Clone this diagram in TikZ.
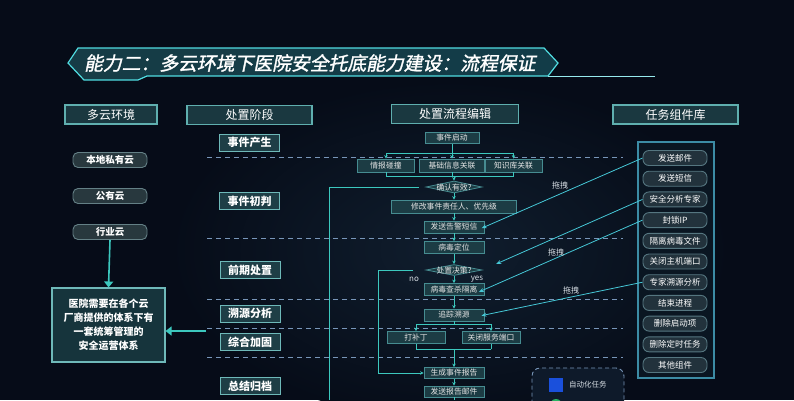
\documentclass[tikz,border=0pt]{standalone}
\usepackage{fontspec}
\setmainfont{Noto Sans CJK SC}
\newfontfamily\titlefont{Noto Sans CJK SC}[FakeSlant=0.2,FakeBold=1.5]
\usetikzlibrary{arrows.meta,shapes.geometric,calc}
\definecolor{bgc}{RGB}{6,12,24}
\definecolor{glowc}{RGB}{16,30,46}
\definecolor{hdrfill}{RGB}{26,56,64}
\definecolor{hdrdraw}{RGB}{95,175,175}
\definecolor{stgfill}{RGB}{30,62,70}
\definecolor{stgdraw}{RGB}{110,185,185}
\definecolor{bigfill}{RGB}{22,52,60}
\definecolor{boxfill}{RGB}{28,60,68}
\definecolor{boxdraw}{RGB}{70,140,145}
\definecolor{tealc}{RGB}{60,200,190}
\definecolor{cpfill}{RGB}{40,56,62}
\definecolor{cpdraw}{RGB}{100,128,134}
\definecolor{pillfill}{RGB}{34,50,60}
\definecolor{pilldraw}{RGB}{85,118,128}
\definecolor{libfill}{RGB}{10,22,34}
\definecolor{libdraw}{RGB}{60,140,165}
\definecolor{dashc}{RGB}{120,150,185}
\definecolor{dragc}{RGB}{70,200,215}
\definecolor{banA}{RGB}{22,60,70}
\definecolor{banB}{RGB}{40,115,125}
\definecolor{banC}{RGB}{18,60,72}
\definecolor{bandraw}{RGB}{80,220,225}
\definecolor{legfill}{RGB}{14,26,42}
\definecolor{autoblue}{RGB}{26,80,220}
\definecolor{greenc}{RGB}{40,180,100}
\definecolor{lblc}{RGB}{215,222,228}
\newcommand\mkzb[1]{\makebox[0pt]{\raisebox{-0.42em}[0pt][0pt]{#1}}}
\begin{document}
\begin{tikzpicture}[x=1pt,y=-1pt,
  hdr/.style={draw=hdrdraw, fill=hdrfill, line width=1.1pt, minimum height=19pt, inner sep=0pt, text=white, font=\fontsize{12}{14}\selectfont},
  cpill/.style={draw=cpdraw, fill=cpfill, line width=0.9pt, rounded corners=5pt, minimum width=74pt, minimum height=15pt, inner sep=0pt, text=white, font=\fontsize{9.5}{11}\selectfont\bfseries},
  bigbox/.style={draw=stgdraw, fill=bigfill, line width=1.1pt, inner sep=0pt, align=center, text=white, font=\fontsize{10}{14}\selectfont\bfseries},
  stg/.style={draw=stgdraw, fill=stgfill, line width=1pt, minimum width=60pt, minimum height=17pt, inner sep=0pt, text=white, font=\fontsize{11}{13}\selectfont\bfseries},
  flowbox/.style={draw=boxdraw, fill=boxfill, line width=0.8pt, minimum width=60pt, minimum height=12pt, inner sep=0pt, text=white!90!black, font=\fontsize{7.8}{9}\selectfont},
  dia/.style={flowbox, shape=diamond, minimum width=56pt, minimum height=12pt},
  lpill/.style={draw=pilldraw, fill=pillfill, line width=0.9pt, rounded corners=6pt, minimum width=64pt, minimum height=15pt, inner sep=0pt, text=white, font=\fontsize{8.5}{10}\selectfont},
  lbl/.style={text=lblc, inner sep=0pt, font=\fontsize{8}{9}\selectfont},
  flow/.style={draw=tealc, line width=0.9pt},
  flowarr/.style={flow, -{Stealth[length=3.5pt,width=3.5pt]}},
  drag/.style={draw=dragc, line width=0.8pt, -{Stealth[length=5pt,width=4pt]}},
  bigarr/.style={draw=tealc, line width=1.6pt, -{Triangle[length=6pt,width=9pt]}},
  dline/.style={draw=dashc, line width=0.8pt, dash pattern=on 5pt off 4pt}
]
\useasboundingbox (0,0) rectangle (794,400);
\clip (0,0) rectangle (794,400);
\fill[bgc] (0,0) rectangle (794,400);
\shade[inner color=glowc, outer color=bgc] (450,250) ellipse (280 and 170);

% title banner
\shade[left color=banA, middle color=banB, right color=banC]
  (78,48) -- (544,48) -- (558,63) -- (548,76) -- (147,76) -- (138,80) -- (84,80) -- (68,63) -- cycle;
\draw[bandraw, line width=1.2pt]
  (78,48) -- (544,48) -- (558,63) -- (548,76) -- (147,76) -- (138,80) -- (84,80) -- (68,63) -- cycle;
\draw[bandraw!60, line width=0.8pt] (548,76) -- (655,76);
\node[anchor=west, text=white, inner sep=0pt, font=\titlefont\fontsize{18.8}{21}\selectfont] (title) at (84,63) {能力二：多云环境下医院安全托底能力建设：流程保证};

% column headers
\node[hdr, minimum width=92pt] (h1) at (111,114.5) {多云环境};
\node[hdr, minimum width=125pt] (h2) at (249.5,115) {处置阶段};
\node[hdr, minimum width=127pt] (h3) at (455,114) {处置流程编辑};
\node[hdr, minimum width=125pt] (h4) at (675.5,114.5) {任务组件库};

% stage separators
\foreach \yy in {157,238,299,328,357} \draw[dline] (207,\yy) -- (623,\yy);

% left column
\node[cpill] (c1) at (110,160) {本地私有云};
\node[cpill] (c2) at (110,196) {公有云};
\node[cpill] (c3) at (110,232) {行业云};
\node[bigbox, minimum width=113pt, minimum height=74pt] (big) at (108.5,325)
  {医院需要在各个云\\厂商提供的体系下有\\一套统筹管理的\\安全运营体系};
\draw[bigarr] (c3.south) -- (big.north);
\coordinate (tailR) at (206,331);
\draw[bigarr] (tailR) -- (big.east|-tailR);

% stages
\node[stg] (s1) at (249.5,142.5) {事件产生};
\node[stg] (s2) at (249.5,201) {事件初判};
\node[stg] (s3) at (250,270) {前期处置};
\node[stg] (s4) at (250,313.5) {溯源分析};
\node[stg] (s5) at (250,342) {综合加固};
\node[stg] (s6) at (250,386) {总结归档};

% flow editor
\node[flowbox, minimum width=54pt, minimum height=11pt] (f0) at (452,138) {事件启动};
\node[flowbox, minimum width=57pt, minimum height=13pt] (b1) at (386,165.5) {情报碰撞};
\node[flowbox, minimum width=65pt, minimum height=13pt] (b2) at (452,165.5) {基础信息关联};
\node[flowbox, minimum width=57pt, minimum height=13pt] (b3) at (513.5,165.5) {知识库关联};
\node[dia] (d1) at (454,187) {\mkzb{确认有效?}};
\node[flowbox, minimum width=125pt, minimum height=13pt] (f1) at (454,206.5) {修改事件责任人、优先级};
\node[flowbox] (f2) at (454,227) {发送告警短信};
\node[flowbox] (f3) at (454,247.5) {病毒定位};
\node[dia, minimum height=11pt] (d2) at (454,270) {\mkzb{处置决策?}};
\node[flowbox] (f4) at (454,289.5) {病毒查杀隔离};
\node[flowbox] (f5) at (454,315) {追踪溯源};
\node[flowbox, minimum width=58pt] (p1) at (416,337.5) {打补丁};
\node[flowbox, minimum width=58pt] (p2) at (491,337.5) {关闭服务端口};
\node[flowbox, minimum height=11pt] (r1) at (454,373) {生成事件报告};
\node[flowbox, minimum height=11pt] (r2) at (454,391.5) {发送报告邮件};
\node[lbl] (no) at (414,279) {no};
\node[lbl] (yes) at (477,279) {yes};

% spine connectors
\coordinate (railT) at (452,153);
\coordinate (railB) at (454,176);
\draw[flow] (f0.south) -- (railT);
\draw[flow] (b1.north|-railT) -- (b3.north|-railT);
\draw[flowarr] (b1.north|-railT) -- (b1.north);
\draw[flowarr] (b2.north|-railT) -- (b2.north);
\draw[flowarr] (b3.north|-railT) -- (b3.north);
\draw[flow] (b1.south) -- (b1.south|-railB);
\draw[flow] (b2.south) -- (b2.south|-railB);
\draw[flow] (b3.south) -- (b3.south|-railB);
\draw[flow] (b1.south|-railB) -- (b3.south|-railB);
\draw[flowarr] (railB) -- (d1.north);
\draw[flowarr] (d1.south) -- (f1.north);
\draw[flowarr] (f1.south) -- (f2.north);
\draw[flowarr] (f2.south) -- (f3.north);
\draw[flowarr] (f3.south) -- (d2.north);
\draw[flowarr] (d2.south) -- (f4.north);
\draw[flowarr] (f4.south) -- (f5.north);
\coordinate (railT2) at (454,324);
\coordinate (railB2) at (454,349);
\draw[flow] (f5.south) -- (railT2);
\draw[flow] (p1.north|-railT2) -- (p2.north|-railT2);
\draw[flowarr] (p1.north|-railT2) -- (p1.north);
\draw[flowarr] (p2.north|-railT2) -- (p2.north);
\draw[flow] (p1.south) -- (p1.south|-railB2);
\draw[flow] (p2.south) -- (p2.south|-railB2);
\draw[flow] (p1.south|-railB2) -- (p2.south|-railB2);
\draw[flowarr] (railB2) -- (r1.north);
\draw[flowarr] (r1.south) -- (r2.north);
\coordinate (bottomEnd) at (454,400);
\draw[flow] (r2.south) -- (bottomEnd);

% loops
\coordinate (loopA) at (329,400);
\draw[flow, shorten <=7pt] (d1.west) -- (d1.west-|loopA) -- (loopA);
\coordinate (loopB) at (378,0);
\draw[flowarr, shorten <=13pt] (d2.west) -- (d2.west-|loopB) -- (loopB|-r1.west) -- (r1.west);

% task library
\node[draw=libdraw, fill=libfill, line width=1.1pt, minimum width=76pt, minimum height=236pt, inner sep=0pt] (lib) at (676,260) {};
\node[lpill] (L1) at (675,158) {发送邮件};
\node[lpill] (L2) at (675,178.7) {发送短信};
\node[lpill] (L3) at (675,199.4) {安全分析专家};
\node[lpill] (L4) at (675,220.1) {封锁IP};
\node[lpill] (L5) at (675,240.8) {隔离病毒文件};
\node[lpill] (L6) at (675,261.5) {关闭主机端口};
\node[lpill] (L7) at (675,282.2) {专家溯源分析};
\node[lpill] (L8) at (675,302.9) {结束进程};
\node[lpill] (L9) at (675,323.6) {删除启动项};
\node[lpill] (L10) at (675,344.3) {删除定时任务};
\node[lpill] (L11) at (675,365) {其他组件};

% drag arrows
\draw[drag, shorten >=-3pt] (L1.west) -- (f2.east);
\draw[drag, shorten >=15pt] (L3.west) -- (d2.east);
\draw[drag, shorten >=-6pt] (L4.west) -- (f4.east);
\draw[drag, shorten >=-3pt] (L7.west) -- (f5.east);
\node[lbl] (t1) at (560,185) {拖拽};
\node[lbl] (t2) at (556,252) {拖拽};
\node[lbl] (t3) at (571,290) {拖拽};

% legend
\node[draw=dashc, dash pattern=on 4pt off 3pt, line width=0.9pt, rounded corners=8pt, fill=legfill, minimum width=92pt, minimum height=52pt, inner sep=0pt] (leg) at (578,394) {};
\node[fill=autoblue, minimum size=14pt, inner sep=0pt] (sq) at (555.5,385) {};
\node[lbl, anchor=west, font=\fontsize{7.5}{9}\selectfont] (legt) at (569,385) {自动化任务};
\node[circle, fill=greenc, minimum size=12pt, inner sep=0pt] (gc) at (556,405) {};
\end{tikzpicture}
\end{document}
